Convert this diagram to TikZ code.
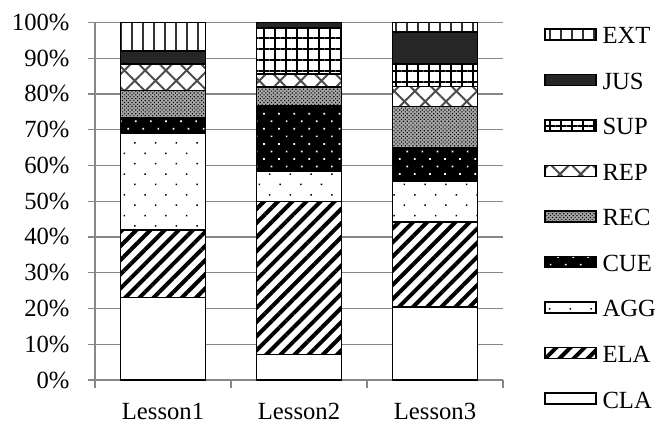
\documentclass[tikz,border=0pt]{standalone}
\usepackage{fontspec}
\setmainfont{Liberation Serif}
\usetikzlibrary{patterns.meta}

\tikzset{every picture/.style={line width=0.75pt}}
\tikzset{
  gridln/.style={color={rgb, 255:red, 134; green, 134; blue, 134 }, line width=1.1pt},
  segbox/.style={draw=black, line width=1.3pt},
  segCLA/.style={segbox, fill=white},
  segELA/.style={segbox, preaction={fill=white}, pattern={Lines[angle=45,distance=7.5pt,line width=3pt]}},
  segAGG/.style={segbox, preaction={fill=white}, pattern={Dots[angle=45,distance=11pt,radius=0.8pt]}},
  segCUE/.style={segbox, preaction={fill=black}, pattern={Dots[angle=45,distance=8pt,radius=0.9pt]}, pattern color=white},
  segREC/.style={segbox, preaction={fill=black!35}, pattern={Dots[angle=45,distance=2pt,radius=0.6pt]}},
  segREP/.style={segbox, preaction={fill=white}, pattern={Hatch[angle=45,distance=11pt,line width=1.5pt]}, pattern color=black!70},
  segSUP/.style={segbox, preaction={fill=white}, pattern={Hatch[angle=0,distance=8.25pt,line width=1.4pt]}},
  segJUS/.style={segbox, fill={rgb, 255:red, 38; green, 38; blue, 38 }},
  segEXT/.style={segbox, preaction={fill=white}, pattern={Lines[angle=90,distance=8.25pt,line width=2pt]}, pattern color=black!80},
  ticklbl/.style={anchor=base east, inner sep=0.75pt},
  leglbl/.style={anchor=base west, inner sep=0.75pt},
}

\begin{document}
\begin{tikzpicture}[x=0.75pt,y=0.75pt,yscale=-1,xscale=1,font=\fontsize{18.5}{20}\selectfont]
\useasboundingbox (0,0) rectangle (659,423);

%Grid Lines
\draw [gridln] (88,380) -- (503,380) ;
\draw [gridln] (88,344.25) -- (503,344.25) ;
\draw [gridln] (88,308.5) -- (503,308.5) ;
\draw [gridln] (88,272.75) -- (503,272.75) ;
\draw [gridln] (88,237) -- (503,237) ;
\draw [gridln] (88,201.25) -- (503,201.25) ;
\draw [gridln] (88,165.5) -- (503,165.5) ;
\draw [gridln] (88,129.75) -- (503,129.75) ;
\draw [gridln] (88,94) -- (503,94) ;
\draw [gridln] (88,58.25) -- (503,58.25) ;
\draw [gridln] (88,22.5) -- (503,22.5) ;
%Axis Lines
\draw [gridln] (95,22.5) -- (95,388) ;
\draw [gridln] (231,380) -- (231,388) ;
\draw [gridln] (367,380) -- (367,388) ;
\draw [gridln] (503,380) -- (503,388) ;

%Shape: Rectangle (Lesson1)
\draw [segCLA] (120.5,380) rectangle (205.5,297.4) ;
\draw [segELA] (120.5,297.4) rectangle (205.5,229.85) ;
\draw [segAGG] (120.5,229.85) rectangle (205.5,133.3) ;
\draw [segCUE] (120.5,133.3) rectangle (205.5,118.3) ;
\draw [segREC] (120.5,118.3) rectangle (205.5,90.4) ;
\draw [segREP] (120.5,90.4) rectangle (205.5,64) ;
\draw [segJUS] (120.5,64) rectangle (205.5,50.7) ;
\draw [segEXT] (120.5,50.7) rectangle (205.5,22.5) ;
%Shape: Rectangle (Lesson2)
\draw [segCLA] (256.5,380) rectangle (341.5,354.6) ;
\draw [segELA] (256.5,354.6) rectangle (341.5,201.6) ;
\draw [segAGG] (256.5,201.6) rectangle (341.5,170.9) ;
\draw [segCUE] (256.5,170.9) rectangle (341.5,105.8) ;
\draw [segREC] (256.5,105.8) rectangle (341.5,87.2) ;
\draw [segREP] (256.5,87.2) rectangle (341.5,74) ;
\draw [segSUP] (256.5,74) rectangle (341.5,28.2) ;
\draw [segJUS] (256.5,28.2) rectangle (341.5,22.5) ;
%Shape: Rectangle (Lesson3)
\draw [segCLA] (392.5,380) rectangle (477.5,306.7) ;
\draw [segELA] (392.5,306.7) rectangle (477.5,222) ;
\draw [segAGG] (392.5,222) rectangle (477.5,180.9) ;
\draw [segCUE] (392.5,180.9) rectangle (477.5,148.3) ;
\draw [segREC] (392.5,148.3) rectangle (477.5,106.5) ;
\draw [segREP] (392.5,106.5) rectangle (477.5,86.5) ;
\draw [segSUP] (392.5,86.5) rectangle (477.5,64.3) ;
\draw [segJUS] (392.5,64.3) rectangle (477.5,32.2) ;
\draw [segEXT] (392.5,32.2) rectangle (477.5,22.5) ;

%Shape: Rectangle (legend keys)
\draw [segEXT] (545,29) rectangle (596,40) ;
\draw [segJUS] (545,74.5) rectangle (596,85.5) ;
\draw [segSUP] (545,120) rectangle (596,131) ;
\draw [segREP] (545,165.5) rectangle (596,176.5) ;
\draw [segREC] (545,211) rectangle (596,222) ;
\draw [segCUE] (545,256.5) rectangle (596,267.5) ;
\draw [segAGG] (545,302) rectangle (596,313) ;
\draw [segELA] (545,347.5) rectangle (596,358.5) ;
\draw [segCLA] (545,393) rectangle (596,404) ;

% Text Node
\draw (71,388) node [ticklbl] (t0) {0\%};
\draw (71,352.25) node [ticklbl] (t10) {10\%};
\draw (71,316.5) node [ticklbl] (t20) {20\%};
\draw (71,280.75) node [ticklbl] (t30) {30\%};
\draw (71,245) node [ticklbl] (t40) {40\%};
\draw (71,209.25) node [ticklbl] (t50) {50\%};
\draw (71,173.5) node [ticklbl] (t60) {60\%};
\draw (71,137.75) node [ticklbl] (t70) {70\%};
\draw (71,102) node [ticklbl] (t80) {80\%};
\draw (71,66.25) node [ticklbl] (t90) {90\%};
\draw (71,30.5) node [ticklbl] (t100) {100\%};
% Text Node
\draw (163,419) node [anchor=base, inner sep=0.75pt] (lesson1) {Lesson1};
\draw (299,419) node [anchor=base, inner sep=0.75pt] (lesson2) {Lesson2};
\draw (435,419) node [anchor=base, inner sep=0.75pt] (lesson3) {Lesson3};
% Text Node
\draw (601,44) node [leglbl] (lext) {EXT};
\draw (601,89.5) node [leglbl] (ljus) {JUS};
\draw (601,135) node [leglbl] (lsup) {SUP};
\draw (601,180.5) node [leglbl] (lrep) {REP};
\draw (601,226) node [leglbl] (lrec) {REC};
\draw (601,271.5) node [leglbl] (lcue) {CUE};
\draw (601,317) node [leglbl] (lagg) {AGG};
\draw (601,362.5) node [leglbl] (lela) {ELA};
\draw (601,408) node [leglbl] (lcla) {CLA};
\end{tikzpicture}
\end{document}
